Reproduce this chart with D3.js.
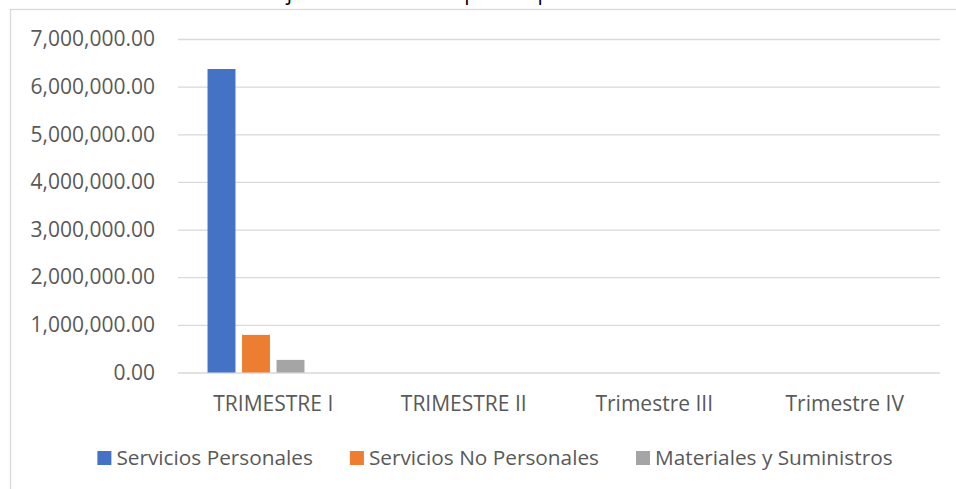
<!DOCTYPE html>
<html>
<head>
<meta charset="utf-8">
<script src="https://cdn.jsdelivr.net/npm/d3@7"></script>
<style>
  body { margin: 0; background: #fff; }
  text { font-family: "Open Sans", sans-serif; }
</style>
</head>
<body>
<div id="my_chart"></div>
<script>

// ======================= //
// DATA
// ======================= //

var categories = ["TRIMESTRE I", "TRIMESTRE II", "Trimestre III", "Trimestre IV"]
var seriesNames = ["Servicios Personales", "Servicios No Personales", "Materiales y Suministros"]
var serviciosPersonales = [6370000, null, null, null]
var serviciosNoPersonales = [790000, null, null, null]
var materialesSuministros = [265000, null, null, null]
var yTicks = [0, 1000000, 2000000, 3000000, 4000000, 5000000, 6000000, 7000000]
var colors = ["#4472c4", "#ed7d31", "#a5a5a5"]
var chartTitle = "Gráfico 1. Ejecución del Presupuesto por Trimestre"

var seriesValues = [serviciosPersonales, serviciosNoPersonales, materialesSuministros]



// ======================= //
// SVG AREAS
// ======================= //

var W = 956, H = 489
var margin = {top: 39, right: 16, bottom: 116.5, left: 178},
  width = W - margin.left - margin.right,
  height = H - margin.top - margin.bottom;

var root = d3.select("#my_chart")
  .append("svg")
    .attr("width", W)
    .attr("height", H)

// chart frame (runs off the picture on the right and bottom)
root.append("rect")
  .attr("x", 10.5)
  .attr("y", 9.5)
  .attr("width", 1000)
  .attr("height", 600)
  .style("fill", "none")
  .style("stroke", "#d9d9d9")
  .style("stroke-width", 1.3)

// title, only its lower edge shows above the frame (as in the original)
root.append("text")
  .attr("x", 176)
  .attr("y", 0)
  .text(chartTitle)
  .style("font-size", "21px")
  .style("fill", "#000")

var svg = root.append("g")
  .attr("transform", "translate(" + margin.left + "," + margin.top + ")");



// ======================= //
// AXIS and SCALES
// ======================= //

var y = d3.scaleLinear()
  .domain([0, 7000000])
  .range([height, 0])

var yAxis = svg.append("g")
  .call(d3.axisLeft(y).tickValues(yTicks).tickFormat(d3.format(",.2f")).tickSize(-width).tickPadding(23))
yAxis.select(".domain").remove()
yAxis.selectAll("line")
  .style("stroke", "#d9d9d9")
  .style("stroke-width", 1.3)
yAxis.selectAll("text")
  .style("font-size", "21px")
  .style("fill", "#595959")
  .style("font-family", "Open Sans")

var x = d3.scaleBand()
  .range([0, width])
  .domain(categories)
  .paddingInner(0.31)
  .paddingOuter(0.155)

// Excel keeps room for 4 bars in each group, only 3 are used
var slots = 4
var slotPad = 0.19
var sub = d3.scaleBand()
  .domain(seriesNames)
  .range([0, x.bandwidth() * (seriesNames.length - slotPad) / (slots - slotPad)])
  .paddingInner(slotPad)

var xAxis = svg.append("g")
  .attr("transform", "translate(0," + height + ")")
  .call(d3.axisBottom(x).tickSize(0).tickPadding(24))
xAxis.select(".domain").remove()
xAxis.selectAll("text")
  .style("font-size", "21px")
  .style("fill", "#595959")
  .style("font-family", "Open Sans")



// ======================= //
// BARS
// ======================= //

var rows = []
seriesNames.forEach(function(s, i){
  categories.forEach(function(c, j){
    if (seriesValues[i][j] != null) rows.push({serie: s, cat: c, value: seriesValues[i][j], color: colors[i]})
  })
})

svg.selectAll("rect.bar")
  .data(rows)
  .enter()
  .append("rect")
    .attr("class", "bar")
    .attr("x", function(d){ return x(d.cat) + sub(d.serie) })
    .attr("y", function(d){ return y(d.value) })
    .attr("width", sub.bandwidth())
    .attr("height", function(d){ return height - y(d.value) })
    .style("fill", function(d){ return d.color })



// ======================= //
// LEGEND
// ======================= //

var legend = root.append("g")
var lx = 0
seriesNames.forEach(function(s, i){
  var item = legend.append("g").attr("transform", "translate(" + lx + ",0)")
  item.append("rect")
    .attr("x", 0)
    .attr("y", 451)
    .attr("width", 14)
    .attr("height", 14)
    .style("fill", colors[i])
  var t = item.append("text")
    .attr("x", 19)
    .attr("y", 458)
    .attr("dy", "0.35em")
    .text(s)
    .style("font-size", "20.8px")
    .style("fill", "#595959")
  lx += 19 + t.node().getComputedTextLength() + 37
})
var legendWidth = lx - 37
legend.attr("transform", "translate(" + (495 - legendWidth / 2) + ",0)")

</script>
</body>
</html>
